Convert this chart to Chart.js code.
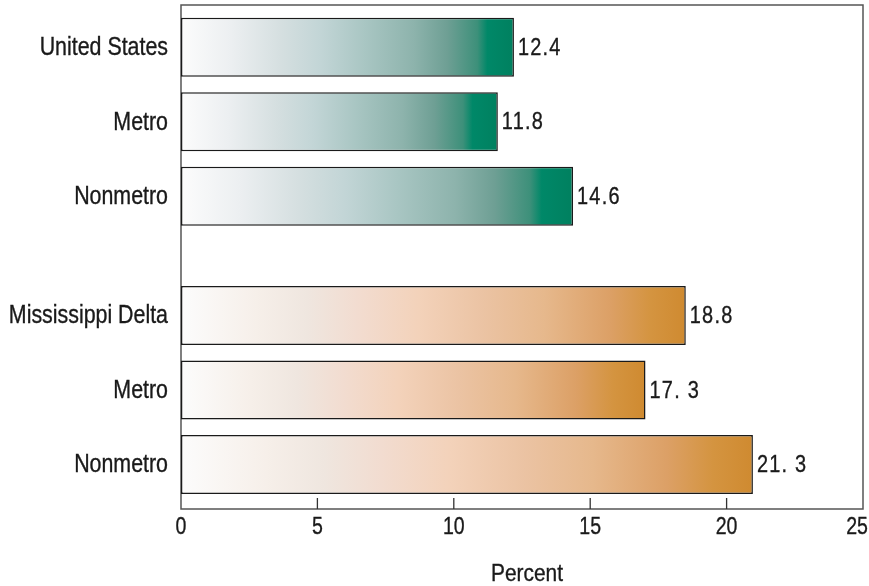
<!DOCTYPE html>
<html>
<head>
<meta charset="utf-8">
<script src="https://cdn.jsdelivr.net/npm/chart.js@4.4.1/dist/chart.umd.min.js"></script>
<style>
  html, body { margin: 0; padding: 0; background: #fff; }
  #wrap { width: 869px; height: 586px; position: relative; }
</style>
</head>
<body>
<div id="wrap"><canvas id="c" width="869" height="586"></canvas></div>
<script>
// ---- data ----
const usCategories = ['United States', 'Metro', 'Nonmetro'];
const usValues = [12.4, 11.8, 14.6];
const usLabels = ['12.4', '11.8', '14.6'];

const deltaCategories = ['Mississippi Delta', 'Metro', 'Nonmetro'];
const deltaValues = [18.8, 17.3, 21.3];
const deltaLabels = ['18.8', '17. 3', '21. 3'];

const xTickValues = [0, 5, 10, 15, 20, 25];
const xTitle = 'Percent';

// ---- styles ----
const FONT = "'Liberation Sans', Arial, sans-serif";
const TEXT = '#1a1a1a';
const greenStops = [[0, '#fcfcfc'], [0.15, '#eceff1'], [0.3, '#d5dfe0'], [0.42, '#c2d5d6'], [0.55, '#a9c6c3'], [0.7, '#8db3ac'], [0.8, '#6e9f94'], [0.89, '#3d907a'], [0.92, '#008868'], [1, '#00805f']];
const orangeStops = [[0, '#fcfcfc'], [0.15, '#f6efe9'], [0.25, '#efe6df'], [0.35, '#f2dcd0'], [0.47, '#f3d2ba'], [0.6, '#ebc3a3'], [0.72, '#e6b88c'], [0.85, '#dca066'], [0.93, '#d49440'], [1, '#cf8a30']];

function gradient(stops) {
  return (c) => {
    const ch = c.chart;
    if (!ch.chartArea || c.type !== 'data') return stops[stops.length - 1][1];
    const xs = ch.scales.xBar;
    const x0 = xs.getPixelForValue(0);
    const x1 = xs.getPixelForValue(c.raw);
    const g = ch.ctx.createLinearGradient(x0, 0, Math.max(x1, x0 + 1), 0);
    stops.forEach(([o, col]) => g.addColorStop(o, col));
    return g;
  };
}

function narrowText(ctx, text, x, y, size, align, spacing, squeeze) {
  ctx.save();
  ctx.font = size + 'px ' + FONT;
  ctx.textAlign = align;
  ctx.textBaseline = 'middle';
  try { ctx.letterSpacing = (spacing || 0) + 'px'; } catch (e) {}
  ctx.translate(x, y);
  ctx.scale(squeeze, 1);
  ctx.fillStyle = TEXT;
  ctx.strokeStyle = TEXT;
  ctx.lineWidth = 0.35;
  ctx.fillText(text, 0, 0);
  ctx.strokeText(text, 0, 0);
  ctx.restore();
}

const hiddenCat = (w) => ({
  type: 'category', labels: [''], stack: 'rows', stackWeight: w, offset: true,
  ticks: { display: false }, grid: { display: false }, border: { display: false },
  afterFit: (s) => { s.paddingTop = 0; s.paddingBottom = 0; s.width = 0; }
});
const rowAxis = (labels, w) => ({
  type: 'category', labels: labels, stack: 'rows', stackWeight: w, offset: true,
  position: 'left',
  ticks: { display: false },
  grid: { display: false }, border: { display: false },
  afterFit: (s) => { s.paddingTop = 0; s.paddingBottom = 0; s.width = 181; }
});

const framePlugin = {
  id: 'frame',
  beforeDatasetsDraw(chart) {
    const { ctx, chartArea: a, scales } = chart;
    ctx.save();
    ctx.strokeStyle = '#555';
    ctx.lineWidth = 1.5;
    ctx.strokeRect(a.left, a.top, a.right - a.left, a.bottom - a.top);
    ctx.strokeStyle = '#333';
    ctx.lineWidth = 1.3;
    ctx.beginPath();
    scales.x.ticks.forEach((t) => {
      if (t.value <= 0 || t.value >= 25) return;
      const px = scales.x.getPixelForValue(t.value);
      ctx.moveTo(px, a.bottom);
      ctx.lineTo(px, a.bottom - 11);
    });
    ctx.stroke();
    ctx.restore();
  },
  afterDatasetsDraw(chart) {
    const { ctx, chartArea: a, scales } = chart;
    // category labels
    ['yTop', 'yBot'].forEach((id) => {
      const s = scales[id];
      s.getLabels().forEach((lab, i) => {
        narrowText(ctx, lab, a.left - 13, s.getPixelForValue(i) + 1, 25, 'right', 0, 0.855);
      });
    });
    // x tick labels
    const xs = scales.x;
    xs.ticks.forEach((t) => {
      let px = xs.getPixelForValue(t.value);
      if (t.value === 25) px -= 6;
      narrowText(ctx, String(t.value), px, a.bottom + 19, 23, 'center', 0, 0.85);
    });
    // title
    narrowText(ctx, xTitle, (a.left + a.right) / 2 + 5, 574, 24, 'center', 0, 0.87);
    // value labels
    chart.data.datasets.forEach((ds, di) => {
      const meta = chart.getDatasetMeta(di);
      meta.data.forEach((el, i) => {
        narrowText(ctx, ds.valueLabels[i], el.x + 4, el.y + 1, 24, 'left', 1.5, 0.83);
      });
    });
  }
};

new Chart(document.getElementById('c'), {
  type: 'bar',
  data: {
    datasets: [
      {
        label: 'United States', data: usValues, valueLabels: usLabels,
        xAxisID: 'xBar', yAxisID: 'yTop', grouped: false,
        backgroundColor: gradient(greenStops),
        borderColor: '#1a1a1a', borderWidth: 1.5, borderSkipped: false,
        categoryPercentage: 1, barPercentage: 0.792
      },
      {
        label: 'Mississippi Delta', data: deltaValues, valueLabels: deltaLabels,
        xAxisID: 'xBar', yAxisID: 'yBot', grouped: false,
        backgroundColor: gradient(orangeStops),
        borderColor: '#1a1a1a', borderWidth: 1.5, borderSkipped: false,
        categoryPercentage: 1, barPercentage: 0.792
      }
    ]
  },
  options: {
    indexAxis: 'y',
    responsive: false,
    animation: false,
    devicePixelRatio: 1,
    layout: { padding: { top: 5, right: 6, bottom: 0, left: 0 } },
    plugins: { legend: { display: false }, tooltip: { enabled: false } },
    scales: {
      xBar: { type: 'linear', position: 'bottom', min: 0, max: 25.4, display: false },
      x: {
        type: 'linear', position: 'bottom', min: 0, max: 25,
        afterBuildTicks: (s) => { s.ticks = xTickValues.map(v => ({ value: v })); },
        ticks: { display: false },
        grid: { display: false }, border: { display: false },
        title: { display: false, text: xTitle },
        afterFit: (s) => { s.paddingLeft = 0; s.paddingRight = 0; s.height = 77; }
      },
      yPadTop: Object.assign(hiddenCat(4.95), { weight: 5 }),
      yTop: Object.assign(rowAxis(usCategories, 223.5), { weight: 4 }),
      yGap: Object.assign(hiddenCat(44.8), { weight: 3 }),
      yBot: Object.assign(rowAxis(deltaCategories, 223.5), { weight: 2 }),
      yPadBot: Object.assign(hiddenCat(7.25), { weight: 1 })
    }
  },
  plugins: [framePlugin]
});
</script>
</body>
</html>
